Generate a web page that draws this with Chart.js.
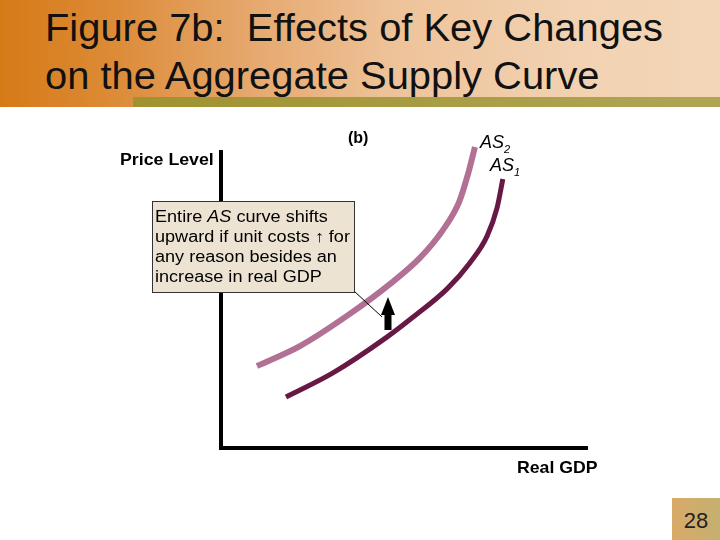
<!DOCTYPE html>
<html>
<head>
<meta charset="utf-8">
<script src="https://cdn.jsdelivr.net/npm/chart.js@4.4.1/dist/chart.umd.min.js"></script>
<style>
  body { margin: 0; background: #fff; }
  #slide { position: relative; width: 720px; height: 540px; overflow: hidden; font-family: "Liberation Sans", Arial, sans-serif; }
  #header { position: absolute; left: 0; top: 0; width: 720px; height: 107px;
    background: linear-gradient(to right, #d67a18 0%, #dc8a35 15%, #e6a86e 35%, #eec39a 55%, #f2d2b2 80%, #f3d6b8 100%); }
  #bar { position: absolute; left: 133px; top: 97px; width: 587px; height: 10px;
    background: linear-gradient(to right, #a0922f, #aa9e48 60%, #b0a555); }
  #title { position: absolute; left: 45px; top: 4px; font-size: 38px; line-height: 48px; color: #111;
    transform: scaleX(1.05); transform-origin: left top; white-space: nowrap; }
  canvas { position: absolute; left: 0; top: 0; }
  .lbl { position: absolute; font-weight: bold; color: #000; white-space: nowrap; transform-origin: left top; }
  .as { position: absolute; font-style: italic; font-size: 18px; color: #000; }
  .as sub { font-size: 11px; }
  #note { position: absolute; left: 152px; top: 201px; width: 203px; height: 92px; box-sizing: border-box;
    background: #ece3d3; border: 1px solid #333; padding: 5px 0 0 2px; color: #000; }
  #note div { font-size: 16px; line-height: 20px; transform: scaleX(1.13); transform-origin: left top; white-space: nowrap; }
  #page { position: absolute; left: 672px; top: 498px; width: 48px; height: 42px;
    background: linear-gradient(to right, #d9aa68, #c4b070); font-size: 22px; color: #222; text-align: center; line-height: 46px; }
</style>
</head>
<body>
<div id="slide">
  <div id="header"></div>
  <div id="bar"></div>
  <div id="title">Figure 7b:&nbsp; Effects of Key Changes<br>on the Aggregate Supply Curve</div>
  <canvas id="grafica" width="720" height="540"></canvas>
  <div class="lbl" style="left:348px; top:129px; font-size:16px;">(b)</div>
  <div class="lbl" style="left:120px; top:151px; font-size:16px; transform:scaleX(1.11);">Price Level</div>
  <div class="as" style="left:480px; top:132px;">AS<sub>2</sub></div>
  <div class="as" style="left:490px; top:155px;">AS<sub>1</sub></div>
  <div class="lbl" style="left:517px; top:458px; font-size:17px; transform:scaleX(1.04);">Real GDP</div>
  <div id="note"><div>Entire <i>AS</i> curve shifts<br>upward if unit costs &uarr; for<br>any reason besides an<br>increase in real GDP</div></div>
  <div id="page">28</div>
</div>
<script>
// curva AS1 (original) y AS2 (desplazada hacia arriba)
const as1Output = [17.7, 30.5, 45.2, 52.0, 61.6, 67.8, 72.5, 75.2, 76.8]
const as1Price  = [17.1, 25.2, 37.2, 43.6, 53.4, 62.1, 71.1, 80.5, 90.3]
const as2Output = [9.8, 21.5, 35.1, 46.0, 54.2, 60.5, 64.9, 67.3, 69.2]
const as2Price  = [27.5, 34.2, 45.0, 55.0, 63.8, 73.2, 82.6, 91.9, 101.0]

// flecha del desplazamiento (en unidades de los ejes)
const arrowOutput = 45.5
const arrowFrom = 39.6
const arrowTo = 50.7

const toPoints = (xs, ys) => xs.map((x, i) => ({ x: x, y: ys[i] }))

const ejes = {
    id: 'ejes',
    beforeDatasetsDraw(chart) {
        const { ctx, scales: { x, y } } = chart
        ctx.save()
        ctx.strokeStyle = '#000'
        ctx.lineWidth = 4
        ctx.beginPath()
        ctx.moveTo(x.getPixelForValue(0), y.getPixelForValue(100))
        ctx.lineTo(x.getPixelForValue(0), y.getPixelForValue(0))
        ctx.lineTo(x.getPixelForValue(100), y.getPixelForValue(0))
        ctx.stroke()
        ctx.restore()
    },
    afterDatasetsDraw(chart) {
        const { ctx, scales: { x, y } } = chart
        const ax = x.getPixelForValue(arrowOutput)
        const y0 = y.getPixelForValue(arrowFrom)
        const y1 = y.getPixelForValue(arrowTo)
        ctx.save()
        ctx.fillStyle = '#000'
        ctx.fillRect(ax - 3.5, y1 + 16, 7, y0 - y1 - 16)
        ctx.beginPath()
        ctx.moveTo(ax, y1)
        ctx.lineTo(ax + 7, y1 + 18)
        ctx.lineTo(ax - 7, y1 + 18)
        ctx.closePath()
        ctx.fill()
        // linea de la nota
        ctx.strokeStyle = '#000'
        ctx.lineWidth = 1
        ctx.beginPath()
        ctx.moveTo(354, 291)
        ctx.lineTo(ax - 6, y1 + 20)
        ctx.stroke()
        ctx.restore()
    }
}

const config = {
    type: 'scatter',
    data: {
        datasets: [{
            label: 'AS2',
            data: toPoints(as2Output, as2Price),
            showLine: true,
            borderColor: 'rgb(178, 112, 148)',
            borderWidth: 6,
            pointRadius: 0,
            cubicInterpolationMode: 'monotone',
            clip: false
        }, {
            label: 'AS1',
            data: toPoints(as1Output, as1Price),
            showLine: true,
            borderColor: 'rgb(104, 24, 68)',
            borderWidth: 5,
            pointRadius: 0,
            cubicInterpolationMode: 'monotone',
            clip: false
        }]
    },
    options: {
        responsive: false,
        animation: false,
        layout: { padding: { left: 221, right: 132, top: 150, bottom: 92 } },
        plugins: { legend: { display: false }, tooltip: { enabled: false } },
        scales: {
            x: { type: 'linear', min: 0, max: 100, display: false },
            y: { type: 'linear', min: 0, max: 100, display: false }
        }
    },
    plugins: [ejes]
}

window.graficaUno = new Chart(document.getElementById('grafica'), config)
</script>
</body>
</html>
